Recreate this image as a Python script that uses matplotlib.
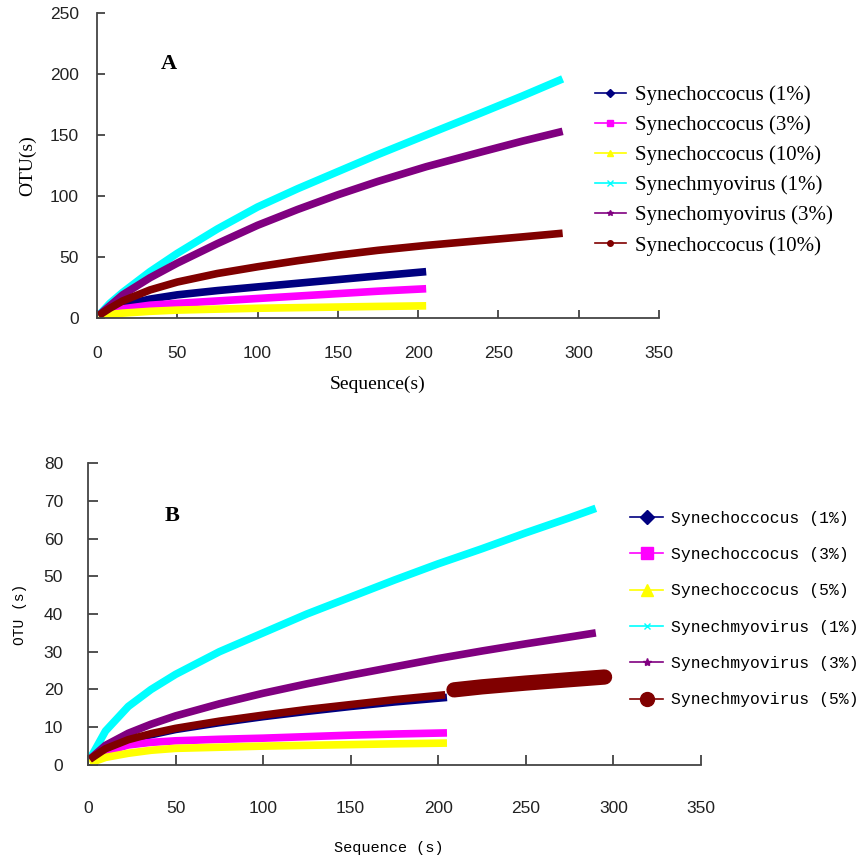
import numpy as np
import matplotlib.pyplot as plt
from matplotlib.lines import Line2D

# panel A
seq_a_syn = [1, 8, 16, 33, 50, 75, 100, 125, 150, 175, 205]
a_syn1 = [2, 7, 10.5, 15.5, 19, 22.5, 25.5, 28.5, 31.5, 34.5, 38]
a_syn3 = [2, 5, 7.5, 10.5, 12, 14, 16, 18, 20, 22, 24]
a_syn10 = [1, 3, 4, 5.5, 6.5, 7.3, 8, 8.5, 9, 9.5, 10]
seq_a_vir = [1, 8, 16, 33, 50, 75, 100, 125, 150, 175, 205, 239, 265, 290]
a_vir1 = [2, 12, 21, 38, 53, 73, 91, 106, 120, 134, 150, 168, 182, 196]
a_vir3 = [2, 10, 19, 33, 45, 61, 76, 89, 101, 112, 124, 136, 145, 153]
a_syn10b = [2, 8, 14, 23, 29.5, 36.5, 42, 47, 51.5, 55.5, 59.5, 63.5, 66.5, 69.5]
labels_a = ['Synechoccocus (1%)', 'Synechoccocus (3%)', 'Synechoccocus (10%)',
            'Synechmyovirus (1%)', 'Synechomyovirus (3%)', 'Synechoccocus (10%)']

# panel B
seq_b_syn = [1, 10, 23, 36, 50, 75, 100, 125, 150, 175, 205]
b_syn1 = [1.5, 4.2, 6.5, 8, 9.4, 11.2, 12.8, 14.2, 15.5, 16.7, 17.9]
b_syn3 = [1, 3.5, 5.3, 6, 6.4, 6.8, 7.1, 7.5, 7.9, 8.2, 8.5]
b_syn5 = [0.5, 2, 3.1, 3.9, 4.4, 4.7, 5.0, 5.2, 5.4, 5.6, 5.8]
seq_b_vir = [1, 10, 23, 36, 50, 75, 100, 125, 150, 175, 200, 225, 250, 275, 290]
b_vir1 = [1.5, 9, 15.5, 20, 24, 30, 35, 40, 44.5, 49, 53.3, 57.3, 61.5, 65.5, 68]
b_vir3 = [1.5, 5.2, 8.4, 10.8, 13, 16.2, 19, 21.5, 23.8, 26, 28.2, 30.2, 32.1, 33.9, 35]
seq_b_vir5 = [1, 10, 23, 36, 50, 75, 100, 125, 150, 175, 204]
b_vir5 = [1.5, 4.3, 6.7, 8.3, 9.7, 11.6, 13.2, 14.7, 16, 17.3, 18.6]
seq_b_vir5_tail = [209, 225, 250, 275, 295]
b_vir5_tail = [19.9, 20.7, 21.7, 22.6, 23.3]
labels_b = ['Synechoccocus (1%)', 'Synechoccocus (3%)', 'Synechoccocus (5%)',
            'Synechmyovirus (1%)', 'Synechmyovirus (3%)', 'Synechmyovirus (5%)']

colors = ['#000080', '#ff00ff', '#ffff00', '#00ffff', '#800080', '#800000']
markers = ['D', 's', '^', 'x', '*', 'o']

fig = plt.figure(figsize=(8.62, 8.6), dpi=100)
axA = fig.add_axes([0.1125, 0.6302, 0.652, 0.3547])
axB = fig.add_axes([0.1021, 0.1105, 0.711, 0.3511])

serif = 'Liberation Serif'
mono = 'Liberation Mono'

# ---- panel A
seriesA = [(seq_a_syn, a_syn1), (seq_a_syn, a_syn3), (seq_a_syn, a_syn10),
           (seq_a_vir, a_vir1), (seq_a_vir, a_vir3), (seq_a_vir, a_syn10b)]
for (x, y), c in zip(seriesA, colors):
    axA.plot(x, y, color=c, lw=5.5, solid_capstyle='butt', solid_joinstyle='round')

axA.set_xlim(0, 350)
axA.set_ylim(0, 250)
axA.set_xticks(np.arange(0, 351, 50))
axA.set_yticks(np.arange(0, 251, 50))
axA.text(45, 208, 'A', fontsize=16, fontweight='bold', family=serif, ha='center', va='center')
axA.set_ylabel('OTU(s)', fontsize=14, family=serif)
axA.set_xlabel('Sequence(s)', fontsize=14, family=serif)
axA.yaxis.set_label_coords(-0.108, 0.5)
axA.xaxis.set_label_coords(0.5, -0.19)
axA.tick_params(direction='in', length=6, width=1.2, labelsize=12.5, colors='#333333')
axA.tick_params(axis='y', pad=13)
axA.tick_params(axis='x', pad=20)

handlesA = [Line2D([], [], color=c, marker=m, lw=1.2, markersize=4) for c, m in zip(colors, markers)]
axA.legend(handlesA, labels_a, loc='upper left',
           bbox_to_anchor=(0.690, 0.901), bbox_transform=fig.transFigure,
           frameon=False, borderpad=0, borderaxespad=0, handlelength=1.5,
           handletextpad=0.45, labelspacing=0.5, prop={'family': serif, 'size': 15})

# ---- panel B
seriesB = [(seq_b_syn, b_syn1), (seq_b_syn, b_syn3), (seq_b_syn, b_syn5),
           (seq_b_vir, b_vir1), (seq_b_vir, b_vir3), (seq_b_vir5, b_vir5)]
for (x, y), c in zip(seriesB, colors):
    axB.plot(x, y, color=c, lw=5.5, solid_capstyle='butt', solid_joinstyle='round')
axB.plot(seq_b_vir5_tail, b_vir5_tail, color=colors[5], lw=11, solid_capstyle='round')

axB.set_xlim(0, 350)
axB.set_ylim(0, 80)
axB.set_xticks(np.arange(0, 351, 50))
axB.set_yticks(np.arange(0, 81, 10))
axB.text(48, 66, 'B', fontsize=16, fontweight='bold', family=serif, ha='center', va='center')
axB.set_ylabel('OTU (s)', fontsize=10.5, family=mono)
axB.set_xlabel('Sequence (s)', fontsize=11, family=mono)
axB.yaxis.set_label_coords(-0.0995, 0.5)
axB.xaxis.set_label_coords(0.491, -0.252)
axB.tick_params(direction='in', length=7, width=1.2, labelsize=12.5, colors='#333333')
axB.tick_params(axis='y', pad=18)
axB.tick_params(axis='x', pad=26)

msizes = [7, 9, 8, 5, 6, 10]
handlesB = [Line2D([], [], color=c, marker=m, lw=1.2, markersize=s)
            for c, m, s in zip(colors, markers, msizes)]
axB.legend(handlesB, labels_b, loc='upper left',
           bbox_to_anchor=(0.731, 0.406), bbox_transform=fig.transFigure,
           frameon=False, borderpad=0, borderaxespad=0, handlelength=2.0,
           handletextpad=0.5, labelspacing=1.3, prop={'family': mono, 'size': 11.8})

for ax in (axA, axB):
    ax.spines['top'].set_visible(False)
    ax.spines['right'].set_visible(False)
    for s in ('left', 'bottom'):
        ax.spines[s].set_color('#444444')
        ax.spines[s].set_linewidth(1.3)
    for t in ax.get_xticklabels() + ax.get_yticklabels():
        t.set_family('Liberation Sans')
        t.set_color('#222222')

fig.savefig('out.png', dpi=100)
